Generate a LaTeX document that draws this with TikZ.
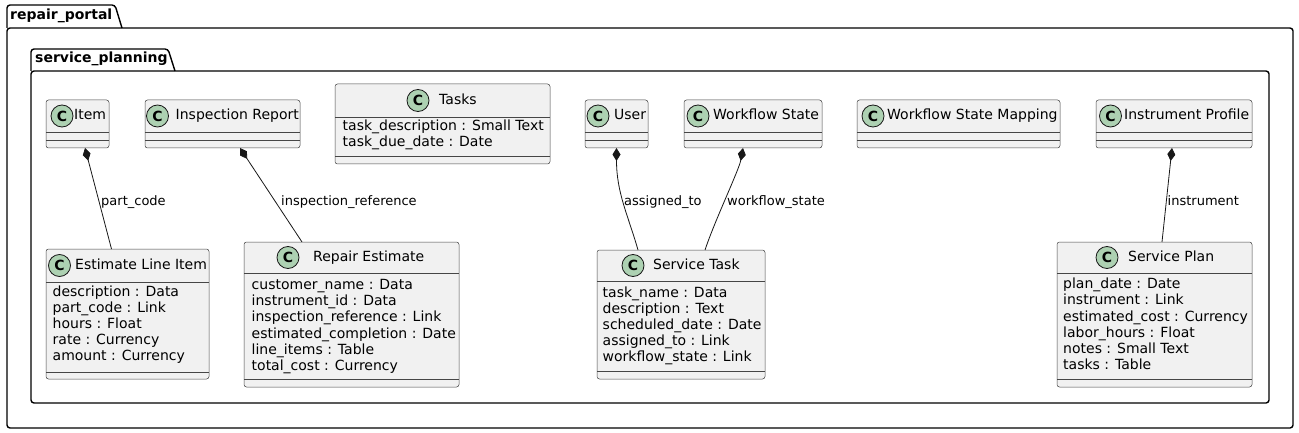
\documentclass[tikz,border=0pt]{standalone}
\usepackage{fontspec}
\setmainfont{DejaVu Sans}
\usetikzlibrary{arrows.meta}
\definecolor{clsfill}{HTML}{F1F1F1}
\definecolor{clsdraw}{HTML}{181818}
\definecolor{circfill}{HTML}{ADD1B2}
\tikzset{
 clsbox/.style={draw=clsdraw!80, line width=0.5pt, fill=clsfill, rounded corners=2.5pt, inner sep=0pt, outer sep=0pt},
 clsline/.style={draw=clsdraw!80, line width=0.5pt},
 cc/.style={circle, draw=clsdraw, line width=0.8pt, fill=circfill, minimum size=22pt, inner sep=0pt, font=\fontsize{14}{14}\bfseries},
 ctitle/.style={inner sep=0pt, anchor=mid west, font=\fontsize{14}{16}\selectfont},
 attr/.style={inner sep=0pt, anchor=mid west, font=\fontsize{14}{16}\selectfont},
 rel/.style={draw=clsdraw, line width=0.8pt, {Diamond[length=13pt,width=8pt]}-},
 rlabel/.style={inner sep=0pt, anchor=mid west, font=\fontsize{13}{15}\selectfont},
 pkg/.style={draw=black, line width=1.4pt, rounded corners=3pt},
 pkglabel/.style={inner sep=0pt, anchor=mid west, font=\fontsize{14}{16}\bfseries},
}
\newcommand\clsbox[7]{%
 \node[clsbox, minimum width={(#4-#2)*1pt}, minimum height={(#5-#3)*1pt}] (#1) at ({(#2+#4)/2},{(#3+#5)/2}) {};
 \draw[clsline] (#2,#6) -- (#4,#6);
 \draw[clsline] (#2,#7) -- (#4,#7);}
\newcommand\clshead[5]{%
 \node[cc] (#1-c) at (#2,#4) {C};
 \node[ctitle] (#1-t) at (#3,{#4+1}) {#5};}
\newcommand\clsattrs[4]{%
 \foreach \t [count=\i from 0] in {#4} {\node[attr] (#1-a\i) at (#2,{#3+16.2*\i}) {\t};}}
\begin{document}
\begin{tikzpicture}[x=1pt,y=-1pt]
\useasboundingbox (0,0) rectangle (1299,433);
\fill[white] (0,0) rectangle (1299,433);
% packages
\draw[pkg] (7,28) -- (7,5) -- (115,5) -- (122,28);
\draw[pkg] (7,28) rectangle (1293,428);
\node[pkglabel] (p1) at (10,16.5) {repair\_portal};
\draw[pkg] (31,71) -- (31,49) -- (168,49) -- (175,71);
\draw[pkg] (31,71) rectangle (1269,403);
\node[pkglabel] (p2) at (35,60) {service\_planning};
% top row
\clsbox{it}{46}{100}{109}{148}{132}{140}
\clshead{it}{62}{74}{116}{Item}
\clsbox{ir}{145}{100}{300}{148}{132}{140}
\clshead{ir}{157.5}{175.5}{116}{Inspection Report}
\clsbox{ta}{335}{84}{550}{164}{117}{156}
\clshead{ta}{418}{439}{100.5}{Tasks}
\clsattrs{ta}{342.5}{127.7}{task\_description : Small Text, task\_due\_date : Date}
\clsbox{us}{585}{100}{648}{148}{132}{140}
\clshead{us}{598}{614}{116}{User}
\clsbox{ws}{684}{100}{822}{148}{132}{140}
\clshead{ws}{698}{713}{116}{Workflow State}
\clsbox{wm}{857}{100}{1060}{148}{132}{140}
\clshead{wm}{873}{887}{116}{Workflow State Mapping}
\clsbox{ip}{1096}{100}{1252}{148}{132}{140}
\clshead{ip}{1110.5}{1124}{116}{Instrument Profile}
% bottom row
\clsbox{el}{46}{249}{209}{379}{282}{372}
\clshead{el}{59.5}{75}{265.5}{Estimate Line Item}
\clsattrs{el}{52.5}{293.3}{description : Data, part\_code : Link, hours : Float, rate : Currency, amount : Currency}
\clsbox{re}{244}{242}{459}{387}{273}{379}
\clshead{re}{288}{313}{257.5}{Repair Estimate}
\clsattrs{re}{251.5}{286.7}{customer\_name : Data, instrument\_id : Data, inspection\_reference : Link, estimated\_completion : Date, line\_items : Table, total\_cost : Currency}
\clsbox{st}{597}{250}{765}{379}{281}{371}
\clshead{st}{633}{653}{265.5}{Service Task}
\clsattrs{st}{602.5}{294.3}{task\_name : Data, description : Text, scheduled\_date : Date, assigned\_to : Link, workflow\_state : Link}
\clsbox{sp}{1057}{242}{1252}{387}{273}{379}
\clshead{sp}{1107}{1128}{257.5}{Service Plan}
\clsattrs{sp}{1063}{286}{plan\_date : Date, instrument : Link, estimated\_cost : Currency, labor\_hours : Float, notes : Small Text, tasks : Table}
% relations
\draw[rel] ([xshift=7.5pt]it.south) -- ([xshift=-16pt]el.north);
\node[rlabel] (l1) at (101,203) {part\_code};
\draw[rel] ([xshift=17.5pt]ir.south) -- ([xshift=-49.5pt]re.north);
\node[rlabel] (l2) at (281,203) {inspection\_reference};
\draw[rel] (us.south) .. controls +(0,45) and +(-10,-35) .. ([xshift=-43pt]st.north);
\node[rlabel] (l3) at (624,203) {assigned\_to};
\draw[rel] ([xshift=-10pt]ws.south) .. controls +(-4,22) and +(10,-30) .. ([xshift=24pt]st.north);
\node[rlabel] (l4) at (727,203) {workflow\_state};
\draw[rel] ([xshift=-2pt]ip.south) -- ([xshift=7.5pt]sp.north);
\node[rlabel] (l5) at (1167.5,203) {instrument};
\end{tikzpicture}
\end{document}
